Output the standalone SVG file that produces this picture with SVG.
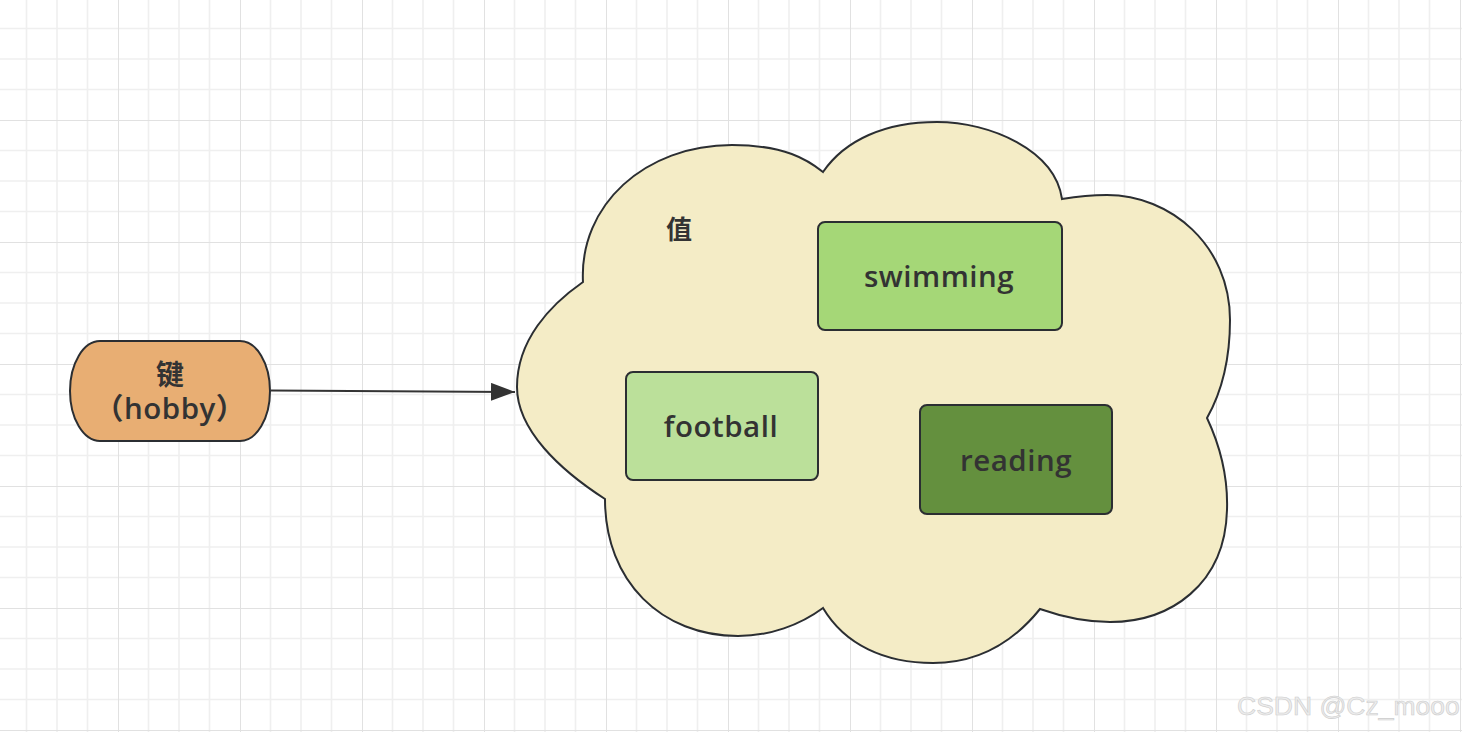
<svg xmlns="http://www.w3.org/2000/svg" width="1462" height="732" viewBox="0 0 1462 732">
  <defs>
    <pattern id="grid" x="118" y="-2" width="122" height="122" patternUnits="userSpaceOnUse">
      <path d="M30.5 0V122M61 0V122M91.5 0V122M0 30.5H122M0 61H122M0 91.5H122" stroke="#efefef" stroke-width="1.6" fill="none"/>
      <path d="M0 0V122M0 0H122" stroke="#e1e1e1" stroke-width="2" fill="none"/>
    </pattern>
    <marker id="arrow" viewBox="0 0 24 18" refX="24" refY="9" markerWidth="24" markerHeight="18" markerUnits="userSpaceOnUse" orient="auto">
      <path d="M0 0L24 9L0 18Z" fill="#333"/>
    </marker>
    <style>
      .shape { stroke: #2b2e32; stroke-width: 2; }
      .label { font-family: "Open Sans", "Noto Sans CJK SC", sans-serif; font-weight: 600; fill: #333; text-anchor: middle; letter-spacing: 0.5px; }
      .big { font-size: 29.5px; }
      .cjk { font-family: "Noto Sans CJK SC", sans-serif; font-weight: 700; fill: #333; text-anchor: middle; }
    </style>
  </defs>

  <rect x="0" y="0" width="1462" height="732" fill="#ffffff"/>
  <rect x="0" y="0" width="1462" height="732" fill="url(#grid)"/>

  <g id="connectors">
    <path d="M271 390.5L515 392" stroke="#333" stroke-width="2" fill="none" marker-end="url(#arrow)"/>
  </g>

  <g id="key">
    <rect class="shape" x="70" y="341" width="200" height="100" rx="30" ry="50" fill="#e8ae73"/>
    <text class="cjk" x="170" y="385" font-size="28">键</text>
    <text class="label big" x="170" y="419">（hobby）</text>
  </g>

  <g id="value">
    <path class="shape" fill="#f4ecc6" d="M583 282 C579 205 645 145 732 145 C785 145 808 160 823 172 C845 140 885 122 937 122 C990 122 1055 150 1062 199 C1080 196 1095 195 1107 195 C1170 195 1230 245 1230 320 C1230 365 1220 395 1207 418 C1222 450 1228 480 1227 510 C1225 585 1170 622 1110 622 C1085 622 1060 616 1040 609 C1015 640 980 663 933 663 C885 663 845 645 823 608 C800 625 770 636 738 636 C662 636 605 582 605 499 C560 470 517 430 517 387 C517 340 550 305 583 282 Z"/>
    <text class="cjk" x="679" y="239" font-size="26">值</text>
  </g>

  <g id="swimming">
    <rect class="shape" x="818" y="222" width="244" height="108" rx="7" fill="#a5d777"/>
    <text class="label big" x="939" y="287">swimming</text>
  </g>

  <g id="football">
    <rect class="shape" x="626" y="372" width="192" height="108" rx="7" fill="#bbe09a"/>
    <text class="label big" x="721" y="437">football</text>
  </g>

  <g id="reading">
    <rect class="shape" x="920" y="405" width="192" height="109" rx="7" fill="#64903e"/>
    <text class="label big" x="1016" y="471">reading</text>
  </g>

  <text x="1237" y="715" font-family="Liberation Sans, Arial, sans-serif" font-size="26.5" fill="#ececec" stroke="#cdcdcd" stroke-width="0.6">CSDN @Cz_mooo</text>
</svg>
